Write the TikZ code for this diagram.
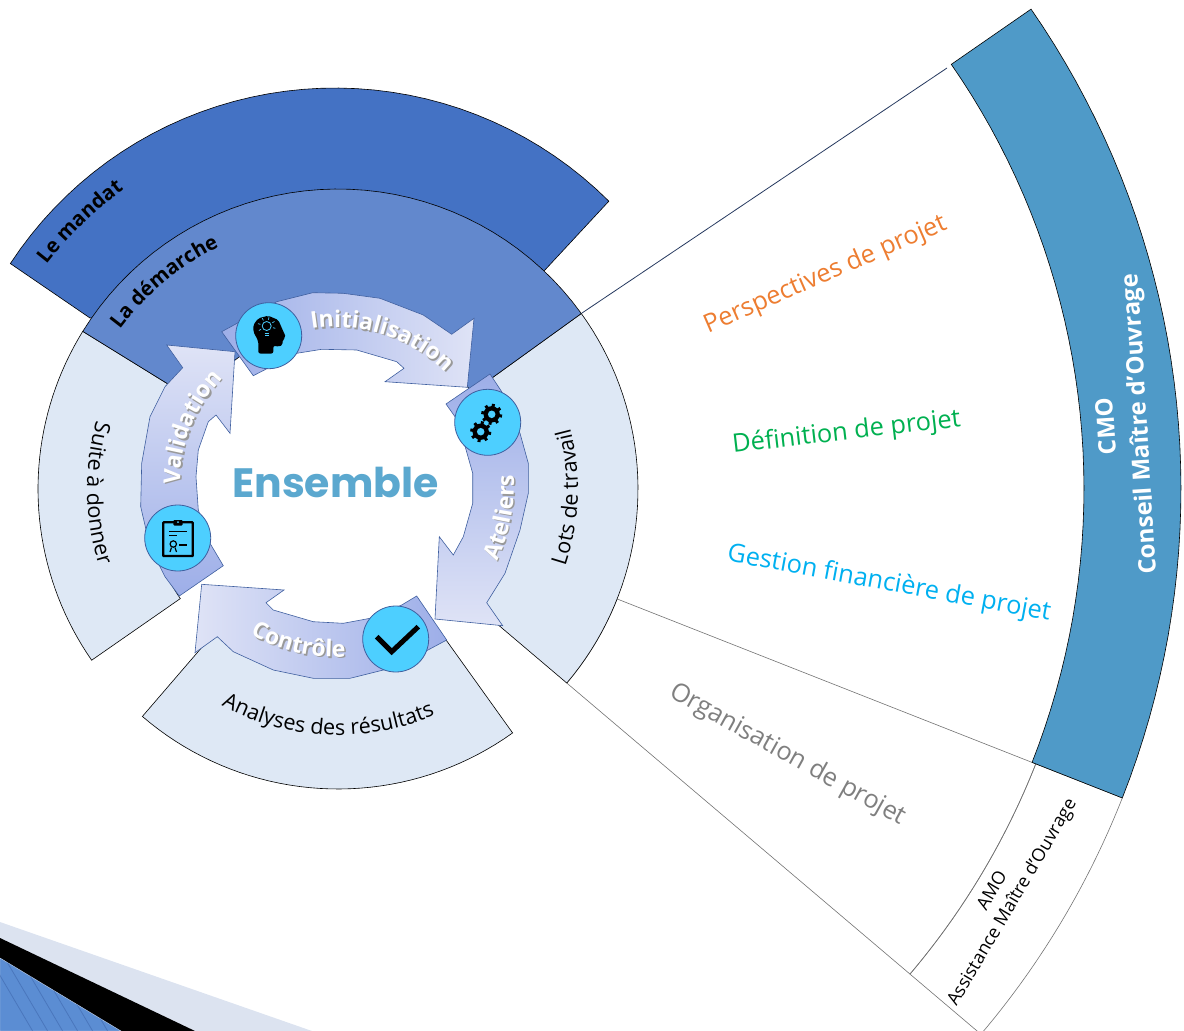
\documentclass[tikz,border=0pt]{standalone}
\usepackage{fontspec}
\setmainfont{Open Sans}
\newfontfamily\titlefont{Poppins}
\usetikzlibrary{decorations.text}
\definecolor{mandatblue}{HTML}{4472C4}
\definecolor{demarcheblue}{HTML}{6288CD}
\definecolor{wedgeblue}{HTML}{DEE8F5}
\definecolor{cmoblue}{HTML}{4F9AC8}
\definecolor{arrowdark}{HTML}{9DAEE8}
\definecolor{arrowlight}{HTML}{DFE3F6}
\definecolor{arrowline}{HTML}{3F5F9F}
\definecolor{iconblue}{HTML}{4DCFFF}
\definecolor{titleblue}{HTML}{5BA8CF}
\definecolor{bandgrey}{HTML}{DCE3F0}
\definecolor{bandblue}{HTML}{5B8DD3}
\definecolor{perspectivecolor}{HTML}{ED7D31}
\definecolor{definitioncolor}{HTML}{00B050}
\definecolor{gestioncolor}{HTML}{00B0F0}
\definecolor{organisationcolor}{HTML}{7F7F7F}
\tikzstyle{wedge}=[draw=black, line width=.6]
\tikzstyle{mandatwedge}=[wedge, fill=mandatblue]
\tikzstyle{demarchewedge}=[wedge, fill=demarcheblue]
\tikzstyle{lightwedge}=[wedge, fill=wedgeblue]
\tikzstyle{cmowedge}=[wedge, fill=cmoblue]
\tikzstyle{thinwedge}=[draw=black!55, line width=.6]
\tikzstyle{ringarrow}=[draw=arrowline, line width=.6]
\tikzstyle{iconcircle}=[circle, fill=iconblue, draw=arrowline, line width=.8, minimum size=66, inner sep=0]
\tikzstyle{projectlabel}=[font=\fontsize{25.4}{28}\selectfont, inner sep=0]
\newcommand{\drawwedge}[5]{
  \draw[#1] plot[domain=#4:#5, samples=40] (\x:#3) -- plot[domain=#5:#4, samples=40] (\x:#2) -- cycle;
}
\newcommand{\arcradius}{0}
\newcommand{\arctext}[5]{
  \begin{scope}[shift={(#1)}]
    \path[decorate, decoration={text along path, text align=center, text={|#5|#2}}]
      plot[domain=#3:#4, samples=60] (\x:\arcradius);
  \end{scope}
}
\newcommand{\ringtext}[6]{
  \renewcommand{\arcradius}{#4}
  \arctext{#1+1.5,#2+1.5}{#3}{#5}{#6}{\bfseries\fontsize{23}{23}\selectfont\color{black!40}}
  \arctext{#1,#2}{#3}{#5}{#6}{\bfseries\fontsize{23}{23}\selectfont\color{white}}
}
\newcommand{\wedgetext}[6]{
  \renewcommand{\arcradius}{#4}
  \arctext{338,489}{#1}{#2}{#3}{#6\fontsize{#5}{#5}\selectfont}
}
\newcommand{\drawgear}[3]{
  \foreach \a in {0,45,...,315} {
    \draw[black, line width=3] (#1,#2) ++(\a+10:#3*.7) -- ++(\a+10:#3*.3);
  }
  \fill[black] (#1,#2) circle[radius=#3*.78];
  \fill[iconblue] (#1,#2) circle[radius=#3*.36];
}

\begin{document}
\begin{tikzpicture}[x=1pt, y=-1pt]
  \useasboundingbox (0,0) rectangle (1184,1031);
  \fill[bandgrey] (0,922) -- (312,1031) -- (0,1031) -- cycle;
  \fill[black] (0,938) -- (195,1031) -- (0,1031) -- cycle;
  \fill[fill=bandblue, draw=bandgrey!80!bandblue] (0,958) -- (121,1031) -- (0,1031) -- cycle;
  \begin{scope}
    \clip (0,958) -- (121,1031) -- (0,1031) -- cycle;
    \foreach \i in {0,15,...,135} {
      \draw[mandatblue!85!black, opacity=.5, line width=.8] (\i-15,950) -- (\i+35,1035);
    }
  \end{scope}

  \draw[mandatwedge] plot[domain=-146.8:-45.1, samples=40] ({335+388*cos(\x)},{476+388*sin(\x)}) -- (544,271) -- (90,318) -- cycle;
  \begin{scope}[shift={(338,489)}]
    \drawwedge{thinwedge, fill=white}{300}{750}{21.5}{40.3}
    \drawwedge{thinwedge}{750}{843}{21.5}{40.3}
    \drawwedge{cmowedge}{746}{843}{-34.7}{21.5}
    \drawwedge{lightwedge}{170}{300}{-35.8}{40.3}
    \drawwedge{lightwedge}{170}{300}{54.4}{130.7}
    \drawwedge{lightwedge}{192}{300}{-214.8}{-148.3}
    \drawwedge{demarchewedge}{165}{300}{-148.3}{-35.8}
  \end{scope}
  \draw[arrowline!60!black, line width=.8] (582,313) -- (947,68);

  \shade[ringarrow, left color=arrowdark, right color=arrowlight]
    (221.7,331.7) -- (276.7,301.7) -- (312.7,292.7) -- (343.3,293.3) -- (380,298.3) -- (423.3,315)
    -- (451.7,334.3) -- (474,318.3) -- (467.3,387.3) -- (385,381.7) -- (404,368.3) -- (396.7,361.7)
    -- (356.7,350) -- (321.7,349.3) -- (296.7,353.3) -- (253.3,375.7) -- cycle;
  \shade[ringarrow, top color=arrowdark, bottom color=arrowlight]
    (446,404) -- (490,374) -- (501.7,391.7) -- (520,433.3) -- (528.3,463.3) -- (528.3,493.3)
    -- (520,530) -- (505,573.3) -- (486.7,602.7) -- (502.7,625.7) -- (435,619) -- (439.3,536.7)
    -- (453.3,555) -- (463.3,536.7) -- (472.7,503.3) -- (472.7,473.3) -- (463.3,440) -- (455,416.7) -- cycle;
  \shade[ringarrow, right color=arrowdark, left color=arrowlight]
    (416.7,596) -- (446.7,640) -- (396.7,666.7) -- (350,678.3) -- (313.3,678.3) -- (273.3,670)
    -- (233.3,651.7) -- (217.3,636.7) -- (195,652.7) -- (201.7,584.3) -- (284,590) -- (266,602.7)
    -- (273.3,610) -- (313.3,621.7) -- (343.3,623.3) -- (370,618.3) -- (401.7,605) -- cycle;
  \shade[ringarrow, bottom color=arrowdark, top color=arrowlight]
    (179.3,596) -- (223.3,565.7) -- (210,543.3) -- (198.3,510) -- (196,476.7) -- (198.3,450)
    -- (208.3,421.7) -- (216,415) -- (230,433.3) -- (235,351.7) -- (166.7,345) -- (182.7,367.7)
    -- (165,386.7) -- (150,416.7) -- (141.7,463.3) -- (140.7,506.7) -- (150,546.7) -- (165,576.7) -- cycle;

  \ringtext{335}{485}{Initialisation}{158}{-112}{-32}
  \ringtext{335}{485}{Validation}{155}{-200}{-116}
  \ringtext{335}{485}{Ateliers}{179}{50}{-28}
  \ringtext{335}{485}{Contrôle}{172}{143}{63}

  \wedgetext{Le mandat}{-170}{-98}{368}{20.3}{\bfseries}
  \wedgetext{La démarche}{-166}{-94}{270}{20.3}{\bfseries}
  \wedgetext{Suite à donner}{-136}{-226}{251}{21.5}{}
  \wedgetext{Lots de travail}{42}{-38}{240}{21.5}{}
  \wedgetext{Analyses des résultats}{140}{45}{246}{21.5}{}

  \node[iconcircle] (initicon) at (268.7,335.7) {};
  \node[iconcircle] (gearicon) at (487.7,422.3) {};
  \node[iconcircle] (checkicon) at (395.7,639) {};
  \node[iconcircle] (clipicon) at (177.7,538) {};

  \fill[black, rounded corners=2] (258.3,353.5) -- (258.3,341) -- (253.3,331.7) -- (253.3,325) -- (258.3,318.3)
    -- (268.3,315.7) -- (278.3,320) -- (282.7,330) -- (286,337.3) -- (282.7,339.3) -- (282.7,345)
    -- (279.3,346.7) -- (273.3,345.7) -- (273.3,353.5) -- cycle;
  \draw[iconblue, line width=.8] (266.7,326) circle[radius=4.5];
  \draw[iconblue, line width=1] (264.5,333) -- (269,333) (265,335.5) -- (268.5,335.5);
  \foreach \a in {150,195,240,285,330,15} {
    \draw[iconblue, line width=.7] (266.7,326) ++(\a:6.5) -- ++(\a:2.5);
  }

  \drawgear{491.7}{414.3}{10.5}
  \drawgear{480.7}{431.7}{10.5}

  \draw[black, line width=5] (376.7,636.7) -- (391.7,651.7) -- (418.3,626.7);

  \draw[black, line width=2.2, rounded corners=.5] (163.3,522.3) rectangle (192.7,556);
  \fill[black, rounded corners=1] (173.3,520) rectangle (182.7,525.5);
  \fill[iconblue] (178,522) circle[radius=1];
  \draw[black, line width=1.3] (169,531.7) -- (186.7,531.7) (169,535.7) -- (177,535.7) (179.3,545) -- (186.7,545);
  \draw[black, line width=1.2] (173.3,544) circle[radius=3.2];
  \draw[black, line width=1.2] (171.5,547.5) -- (170,552) (175,547.5) -- (176.5,552);

  \node[font=\titlefont\bfseries\fontsize{41}{41}\selectfont, text=titleblue, inner sep=0] (title) at (335.5,482) {Ensemble};

  \node[projectlabel, text=perspectivecolor, rotate=23.5] (perspectives) at (825.5,275) {Perspectives de projet};
  \node[projectlabel, text=definitioncolor, rotate=6.6] (definition) at (846.5,433) {Définition de projet};
  \node[projectlabel, text=gestioncolor, rotate=-10.5] (gestion) at (889,584) {Gestion financière de projet};
  \node[projectlabel, text=organisationcolor, rotate=-29] (organisation) at (787.5,755) {Organisation de projet};

  \node[font=\bfseries\fontsize{24}{33}\selectfont, text=white, align=center, rotate=93.5, inner sep=0] (cmo) at (1125,425) {CMO\\Conseil Maître d'Ouvrage};
  \node[font=\fontsize{18}{23}\selectfont, align=center, rotate=59.5, inner sep=0] (amo) at (1003,897) {AMO\\Assistance Maître d'Ouvrage};
\end{tikzpicture}
\end{document}
